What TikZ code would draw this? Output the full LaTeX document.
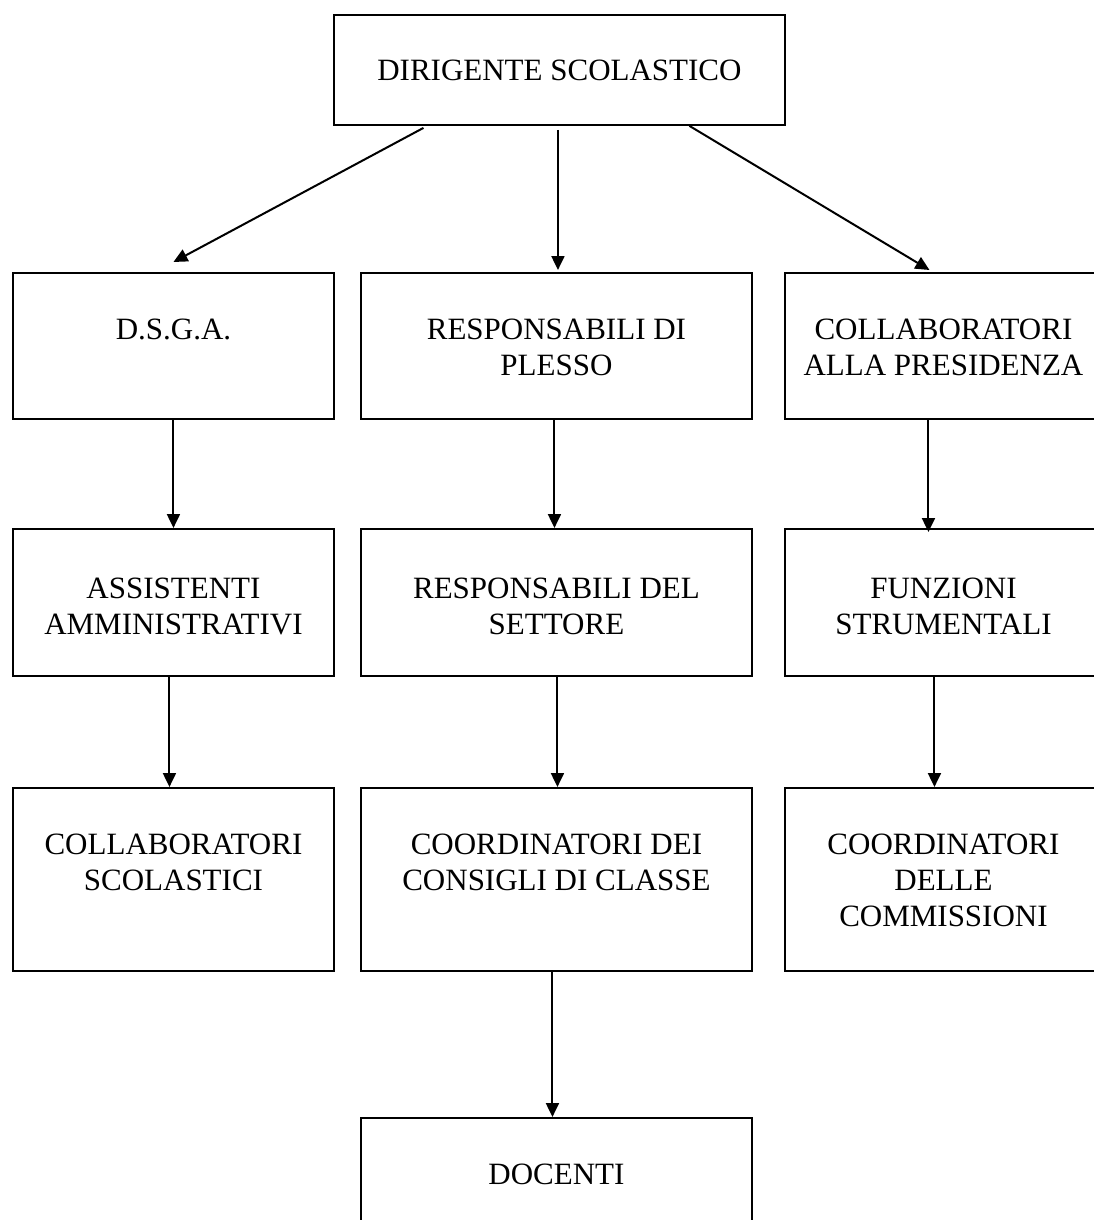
\documentclass[tikz,border=0pt]{standalone}
\usepackage{fontspec}
\setmainfont{Liberation Serif}
\usetikzlibrary{arrows.meta}

\tikzset{
  box/.style={draw, line width=1.9pt, inner sep=0pt, anchor=north west},
  lbl/.style={anchor=base, align=center, inner sep=0pt, font=\fontsize{31}{36}\selectfont},
  arr/.style={-{Triangle[length=14pt, width=13pt]}, line width=2pt},
}

\begin{document}
\begin{tikzpicture}[x=1pt, y=-1pt]
      \useasboundingbox (0, 0) rectangle (1094, 1220);
      \clip (0, 0) rectangle (1094, 1220);

      \node[box, minimum width=451, minimum height=110] (dir) at (333, 14) {};
      \node[box, minimum width=321, minimum height=146] (dsga) at (12, 272) {};
      \node[box, minimum width=391, minimum height=146] (plesso) at (360, 272) {};
      \node[box, minimum width=317, minimum height=146] (pres) at (784, 272) {};
      \node[box, minimum width=321, minimum height=147] (amm) at (12, 528) {};
      \node[box, minimum width=391, minimum height=147] (sett) at (360, 528) {};
      \node[box, minimum width=317, minimum height=147] (funz) at (784, 528) {};
      \node[box, minimum width=321, minimum height=183] (scol) at (12, 787) {};
      \node[box, minimum width=391, minimum height=183] (cons) at (360, 787) {};
      \node[box, minimum width=317, minimum height=183] (comm) at (784, 787) {};
      \node[box, minimum width=391, minimum height=140] (doc) at (360, 1117) {};

      % base = last line, so 36pt more per extra line
      \node[lbl] (dir-t) at ([yshift=-67pt]dir.north) {DIRIGENTE SCOLASTICO};
      \node[lbl] (dsga-t) at ([yshift=-67pt]dsga.north) {D.S.G.A.};
      \node[lbl] (plesso-t) at ([yshift=-103pt]plesso.north) {RESPONSABILI DI\\PLESSO};
      \node[lbl] (pres-t) at ([yshift=-103pt]pres.north) {COLLABORATORI\\ALLA PRESIDENZA};
      \node[lbl] (amm-t) at ([yshift=-106pt]amm.north) {ASSISTENTI\\AMMINISTRATIVI};
      \node[lbl] (sett-t) at ([yshift=-106pt]sett.north) {RESPONSABILI DEL\\SETTORE};
      \node[lbl] (funz-t) at ([yshift=-106pt]funz.north) {FUNZIONI\\STRUMENTALI};
      \node[lbl] (scol-t) at ([yshift=-103pt]scol.north) {COLLABORATORI\\SCOLASTICI};
      \node[lbl] (cons-t) at ([yshift=-103pt]cons.north) {COORDINATORI DEI\\CONSIGLI DI CLASSE};
      \node[lbl] (comm-t) at ([yshift=-139pt]comm.north) {COORDINATORI\\DELLE\\COMMISSIONI};
      \node[lbl] (doc-t) at ([yshift=-67pt]doc.north) {DOCENTI};

      \draw[arr] ([xshift=-136pt, yshift=-2pt]dir.south) to ([yshift=10pt]dsga.north);
      \draw[arr] ([xshift=-1.5pt, yshift=-4pt]dir.south) to ([xshift=1.5pt, yshift=2pt]plesso.north);
      \draw[arr] ([xshift=130pt]dir.south) to ([xshift=-14pt, yshift=2pt]pres.north);
      \draw[arr] (dsga.south) to (amm.north);
      \draw[arr] ([xshift=-2pt]plesso.south) to ([xshift=-2pt]sett.north);
      \draw[arr] ([xshift=-15pt]pres.south) to ([xshift=-15pt, yshift=-4pt]funz.north);
      \draw[arr] ([xshift=-4pt]amm.south) to ([xshift=-4pt]scol.north);
      \draw[arr] ([xshift=1pt]sett.south) to ([xshift=1pt]cons.north);
      \draw[arr] ([xshift=-9pt]funz.south) to ([xshift=-9pt]comm.north);
      \draw[arr] ([xshift=-4pt]cons.south) to ([xshift=-4pt]doc.north);
\end{tikzpicture}
\end{document}
